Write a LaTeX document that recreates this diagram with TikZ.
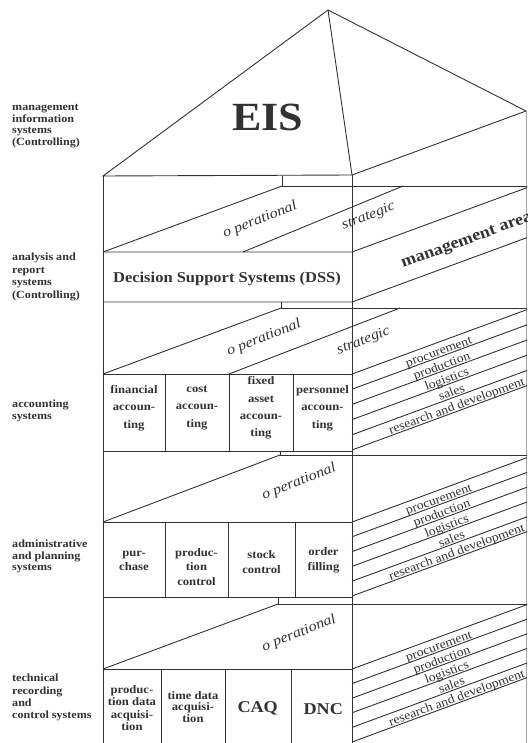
\documentclass[tikz,border=0pt]{standalone}
\usepackage{fontspec}
\setmainfont{Liberation Serif}[FakeStretch=1.1]
\definecolor{ink}{RGB}{50,50,50}
\begin{document}
\begin{tikzpicture}[x=1pt,y=-1pt,
  every node/.style={inner sep=0pt, text=ink},
  edge/.style={draw=ink, line width=0.9pt},
  rimline/.style={draw=ink!45, line width=0.6pt},
  rowlabel/.style={anchor=north west, align=left, font=\bfseries\fontsize{11}{#1}\selectfont},
  cell/.style={align=center, font=\bfseries\fontsize{11.5}{#1}\selectfont},
  bigcell/.style={font=\bfseries\fontsize{16.5}{18}\selectfont},
  layer/.style={rotate=21.5, font=\itshape\fontsize{14.5}{16}\selectfont},
  bandtext/.style={rotate=20.2, anchor=base, font=\fontsize{12.5}{13}\selectfont},
]
\path[use as bounding box] (0,0) rectangle (527,743);
\begin{scope}
\clip (0,0) rectangle (527,743);

% ---------- roof ----------
\coordinate (apex) at (328,10);
\coordinate (eaveL) at (103,176);
\coordinate (eaveF) at (352,175);
\coordinate (eaveR) at (526,111);
\draw[edge] (eaveL) -- (apex) -- (eaveR) -- (eaveF) -- cycle;
\draw[edge] (apex) -- (eaveF);
\node[font=\bfseries\fontsize{40}{40}\selectfont] (eis) at (268,117.5) {EIS};

% ---------- front and rim verticals ----------
\draw[edge] (eaveL) -- (103,760);
\draw[edge] (eaveF) -- (352,760);
\draw[rimline] (eaveR) -- (526,760);

% ---------- analysis and report layer ----------
\draw[edge] (282,176) -- (282,186) -- (560,186);
\draw[edge] (103,252) -- (282,186);
\draw[edge] (243,252) -- (403,186);
\draw[edge] (103,252) -- (352,252) -- ++(190,-69.9);
\draw[edge] (103,302) -- (352,302) -- ++(190,-69.9);
\node[layer] (op1) at (260,220) {o perational};
\node[layer] (st1) at (368.5,216.5) {strategic};
\node[font=\bfseries\fontsize{15}{17}\selectfont] (dss) at (227,279) {Decision Support Systems (DSS)};
\node[rotate=20.2, anchor=base west, font=\bfseries\fontsize{16.5}{18}\selectfont] (marea) at (403,268) {management area};

% ---------- accounting layer ----------
\draw[edge] (281,302) -- (281,308) -- (560,308);
\draw[edge] (103,374) -- (281,308);
\draw[edge] (229,374) -- (400,308);
\draw[edge] (103,374) -- (352,374);
\draw[edge] (103,451) -- (352,451);
\foreach \xx in {165,229,293} \draw[edge] (\xx,374) -- (\xx,451);
\foreach \k in {0,...,5} \draw[edge] (352,374+15.2*\k) -- ++(190,-69.9);
\node[layer] (op2) at (264,338) {o perational};
\node[layer] (st2) at (363.5,341) {strategic};
\node[cell=17.3] (fin) at (134,408) {financial\\accoun-\\ting};
\node[cell=17.3] (cost) at (197,408) {cost\\accoun-\\ting};
\node[cell=17.3] (fix) at (261,408) {fixed\\asset\\accoun-\\ting};
\node[cell=17.3] (pers) at (322.5,408) {personnel\\accoun-\\ting};

% ---------- administrative and planning layer ----------
\draw[edge] (280,451) -- (280,455) -- (560,455);
\draw[edge] (103,522) -- (280,455);
\draw[edge] (103,522) -- (352,522);
\draw[edge] (103,597) -- (352,597);
\foreach \xx in {165,228,295} \draw[edge] (\xx,522) -- (\xx,597);
\foreach \k in {0,...,5} \draw[edge] (352,522+14.8*\k) -- ++(190,-69.9);
\node[layer] (op3) at (299,482) {o perational};
\node[cell=14.5] (pur) at (134,561) {pur-\\chase};
\node[cell=14.5] (prodc) at (196.5,567) {produc-\\tion\\control};
\node[cell=14.5] (stock) at (261.5,562) {stock\\control};
\node[cell=14.5] (order) at (323.5,560.5) {order\\filling};

% ---------- technical recording and control layer ----------
\draw[edge] (278,597) -- (278,604) -- (560,604);
\draw[edge] (103,669) -- (278,604);
\draw[edge] (103,669) -- (352,669);
\foreach \xx in {161,225,291} \draw[edge] (\xx,669) -- (\xx,760);
\foreach \k in {0,...,5} \draw[edge] (352,669+14.6*\k) -- ++(190,-69.9);
\node[layer] (op4) at (299,633.5) {o perational};
\node[cell=12.4] (pda) at (132,708) {produc-\\tion data\\acquisi-\\tion};
\node[cell=11.8] (tda) at (193,707) {time data\\acquisi-\\tion};
\node[bigcell] (caq) at (257.7,708.5) {CAQ};
\node[bigcell] (dnc) at (323.3,709) {DNC};

% ---------- management areas on the side face ----------
\foreach \top/\gap/\tag in {374/15.2/a, 522/14.8/b, 669/14.6/c} {
  \foreach \lbl/\cx [count=\k] in {procurement/440, production/443, logistics/448, sales/453, research and development/458} {
    \pgfmathsetmacro\yy{\top + \gap*\k - 0.3678*(\cx-352) - 1.5}
    \node[bandtext] (band\tag\k) at (\cx,\yy) {\lbl};
  }
}

\end{scope}

% ---------- row labels ----------
\node[rowlabel=11.8] (mis) at (12,104) {management\\information\\systems\\(Controlling)};
\node[rowlabel=12.7] (ars) at (12,252.5) {analysis and\\report\\systems\\(Controlling)};
\node[rowlabel=11.6] (acs) at (12,400) {accounting\\systems};
\node[rowlabel=11.5] (aps) at (12,540) {administrative\\and planning\\systems};
\node[rowlabel=12.3] (trc) at (12,674) {technical\\recording\\and\\control systems};
\end{tikzpicture}
\end{document}
